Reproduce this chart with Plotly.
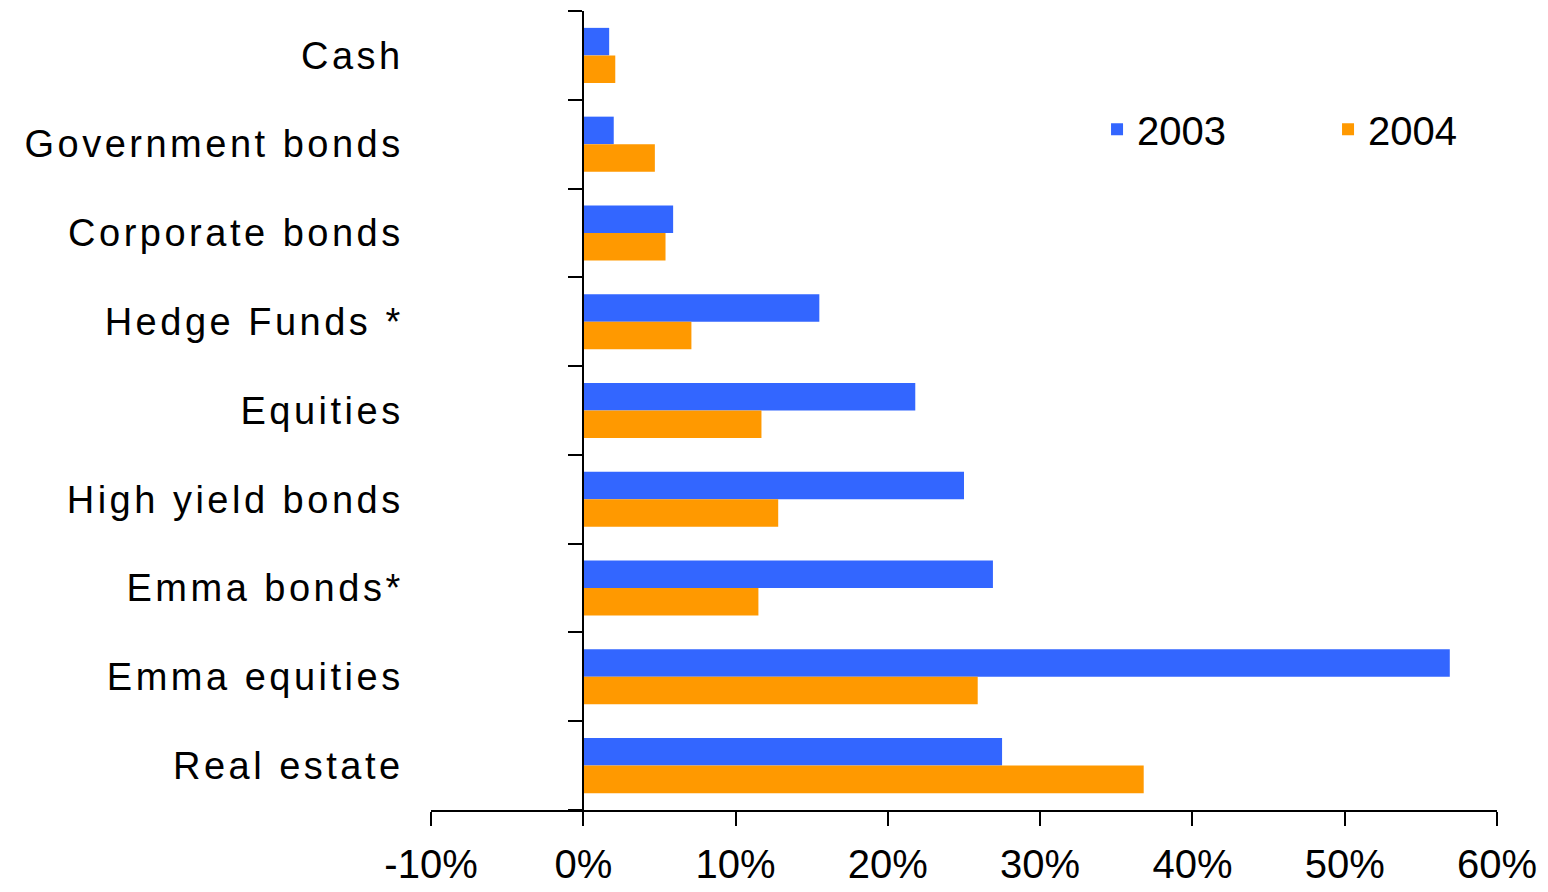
import plotly.graph_objects as go

categories = ["Cash", "Government bonds", "Corporate bonds", "Hedge Funds *",
              "Equities", "High yield bonds", "Emma bonds*", "Emma equities", "Real estate"]
values_2003 = [0.017, 0.020, 0.059, 0.155, 0.218, 0.250, 0.269, 0.569, 0.275]
values_2004 = [0.021, 0.047, 0.054, 0.071, 0.117, 0.128, 0.115, 0.259, 0.368]
series_names = ["2003", "2004"]
x_tickvals = [-0.1, 0, 0.1, 0.2, 0.3, 0.4, 0.5, 0.6]
x_ticktext = ["-10%", "0%", "10%", "20%", "30%", "40%", "50%", "60%"]

BLUE = "#3366FF"
ORANGE = "#FF9900"
FONT = "Arial, Liberation Sans, sans-serif"

fig = go.Figure()
fig.add_trace(go.Bar(y=categories, x=values_2003, name=series_names[0], orientation="h",
                     marker=dict(color=BLUE, line=dict(width=0))))
fig.add_trace(go.Bar(y=categories, x=values_2004, name=series_names[1], orientation="h",
                     marker=dict(color=ORANGE, line=dict(width=0))))

ytext = ['<span style="letter-spacing:3.5px">%s</span>' % c for c in categories]

fig.update_layout(
    width=1548, height=892, autosize=False,
    margin=dict(l=431, r=51, t=11, b=82, pad=0, autoexpand=False),
    paper_bgcolor="white", plot_bgcolor="white",
    barmode="group", bargap=0.38, bargroupgap=0,
    font=dict(family=FONT, color="black"),
    showlegend=True,
    legend=dict(orientation="h", x=0.6248, xanchor="left", y=0.852, yanchor="middle",
                font=dict(family=FONT, size=40, color="black"),
                entrywidth=186, entrywidthmode="pixels",
                bgcolor="rgba(0,0,0,0)", borderwidth=0, traceorder="normal"),
    xaxis=dict(range=[-0.1, 0.6], tickvals=x_tickvals, ticktext=x_ticktext,
               automargin=False,
               showgrid=False, zeroline=False,
               showline=True, linecolor="black", linewidth=2,
               ticks="outside", ticklen=14, tickwidth=2, tickcolor="black",
               ticklabelstandoff=4,
               tickfont=dict(family=FONT, size=40, color="black"),
               anchor="y"),
    yaxis=dict(type="category", categoryorder="array", categoryarray=categories,
               autorange="reversed", automargin=False,
               tickvals=categories, ticktext=ytext,
               anchor="free", position=1/7,
               showgrid=False, zeroline=False,
               showline=True, linecolor="black", linewidth=2,
               ticks="outside", tickson="boundaries", ticklen=14, tickwidth=2, tickcolor="black",
               ticklabelstandoff=171,
               tickfont=dict(family=FONT, size=38, color="black")),
)

fig.write_html("out.html")
